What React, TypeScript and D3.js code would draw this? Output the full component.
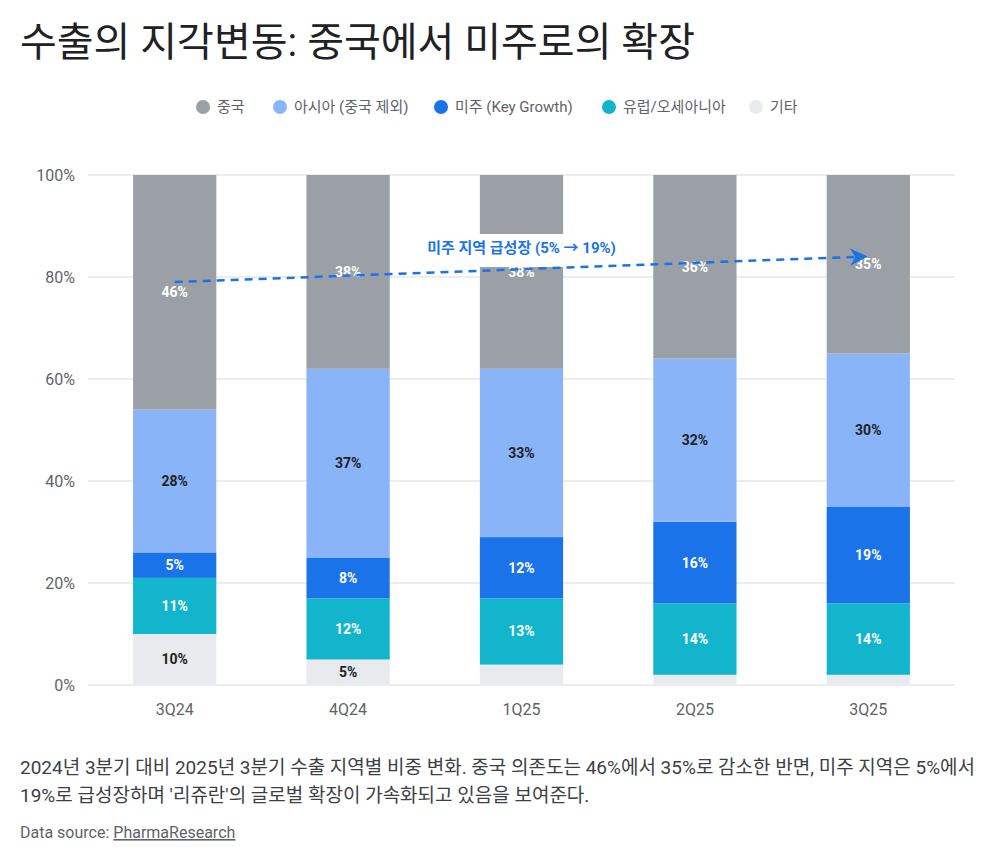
import React, { useEffect, useRef } from 'react';
import * as d3 from 'd3';

// quarterly export share by region (%)
const quarters = ['3Q24', '4Q24', '1Q25', '2Q25', '3Q25'];
const regionNames = ['중국', '아시아 (중국 제외)', '미주 (Key Growth)', '유럽/오세아니아', '기타'];
const china = [46, 38, 38, 36, 35];
const asia = [28, 37, 33, 32, 30];
const americas = [5, 8, 12, 16, 19];
const europe = [11, 12, 13, 14, 14];
const others = [10, 5, 4, 2, 2];
const yTicks = [0, 20, 40, 60, 80, 100];
// trend arrow, start/end level in %
const trend = [79, 84];

const colors: Record<string, string> = {
  china: '#9aa0a6',
  asia: '#8ab4f8',
  americas: '#1a73e8',
  europe: '#12b5cb',
  others: '#e8eaed',
};
const labelFill: Record<string, string> = {
  china: '#ffffff',
  asia: '#202124',
  americas: '#ffffff',
  europe: '#ffffff',
  others: '#202124',
};

const FONT = "Roboto, 'Noto Sans CJK KR', sans-serif";

const App = () => {
  const ref = useRef<SVGSVGElement>(null);

  useEffect(() => {
    const svg = d3.select(ref.current);
    svg.selectAll('*').remove();

    const width = 1000;
    const height = 863;
    const margin = { left: 88, right: 45, top: 175, bottom: 178 };

    svg.attr('width', width).attr('height', height).style('font-family', FONT);

    // title
    svg.append('text')
      .attr('x', 20).attr('y', 56)
      .attr('font-size', 40).attr('fill', '#202124')
      .text('수출의 지각변동: 중국에서 미주로의 확장');

    // legend
    const keys = ['china', 'asia', 'americas', 'europe', 'others'];
    const legend = svg.append('g').attr('font-size', 15).attr('fill', '#5f6368');
    const legendX = [203, 280, 441, 609, 756];
    keys.forEach((k, i) => {
      const g = legend.append('g').attr('transform', `translate(${legendX[i]},107)`);
      g.append('circle').attr('r', 7).attr('fill', colors[k]);
      g.append('text').attr('x', 14).attr('dy', '0.35em').attr('fill', '#5f6368').text(regionNames[i]);
    });

    const rows = quarters.map((q, i) => ({
      quarter: q,
      china: china[i],
      asia: asia[i],
      americas: americas[i],
      europe: europe[i],
      others: others[i],
    }));

    const x = d3.scaleBand()
      .domain(quarters)
      .range([margin.left, width - margin.right])
      .paddingInner(0.52)
      .paddingOuter(0.26);

    const y = d3.scaleLinear()
      .domain([0, 100])
      .range([height - margin.bottom, margin.top]);

    // gridlines + y labels
    const grid = svg.append('g');
    yTicks.forEach(t => {
      grid.append('line')
        .attr('x1', margin.left).attr('x2', width - margin.right)
        .attr('y1', y(t)).attr('y2', y(t))
        .attr('stroke', '#dadce0').attr('stroke-width', 1.2);
      grid.append('text')
        .attr('x', 75).attr('y', y(t)).attr('dy', '0.35em')
        .attr('text-anchor', 'end').attr('font-size', 16).attr('fill', '#5f6368')
        .text(`${t}%`);
    });

    // x labels
    quarters.forEach(q => {
      svg.append('text')
        .attr('x', x(q)! + x.bandwidth() / 2).attr('y', 709)
        .attr('dy', '0.35em')
        .attr('text-anchor', 'middle').attr('font-size', 16).attr('fill', '#5f6368')
        .text(q);
    });

    const stackOrder = ['others', 'europe', 'americas', 'asia', 'china'];
    const series = d3.stack<any>().keys(stackOrder)(rows);

    const bars = svg.append('g');
    series.forEach(s => {
      bars.selectAll(null)
        .data(s)
        .join('rect')
        .attr('x', d => x(d.data.quarter)!)
        .attr('width', x.bandwidth())
        .attr('y', d => y(d[1]))
        .attr('height', d => y(d[0]) - y(d[1]))
        .attr('fill', colors[s.key]);
    });

    const labels = svg.append('g')
      .attr('font-size', 14).attr('font-weight', 700).attr('text-anchor', 'middle');
    series.forEach(s => {
      s.forEach(d => {
        const v = d[1] - d[0];
        if (v < 5) return;
        labels.append('text')
          .attr('x', x(d.data.quarter)! + x.bandwidth() / 2)
          .attr('y', y((d[0] + d[1]) / 2))
          .attr('dy', '0.35em')
          .attr('fill', labelFill[s.key])
          .text(`${Math.round(v)}%`);
      });
    });

    // annotation: growth of the Americas
    const xs = x(quarters[0])! + x.bandwidth() / 2;
    const xe = x(quarters[quarters.length - 1])! + x.bandwidth() / 2;
    const midX = x(quarters[2])! + x.bandwidth() / 2;

    svg.append('rect')
      .attr('x', midX - 110).attr('y', 234)
      .attr('width', 220).attr('height', 33)
      .attr('fill', '#ffffff');

    svg.append('text')
      .attr('x', midX).attr('y', 248).attr('dy', '0.35em')
      .attr('text-anchor', 'middle')
      .attr('font-size', 15).attr('font-weight', 700).attr('fill', '#1a73e8')
      .text('미주 지역 급성장 (5% → 19%)');

    const defs = svg.append('defs');
    defs.append('marker')
      .attr('id', 'arrowhead')
      .attr('viewBox', '0 0 10 10')
      .attr('refX', 7).attr('refY', 5)
      .attr('markerWidth', 7).attr('markerHeight', 7)
      .attr('markerUnits', 'strokeWidth')
      .attr('orient', 'auto')
      .append('path')
      .attr('d', 'M0,0 L10,5 L0,10 L3,5 Z')
      .attr('fill', '#1a73e8');

    svg.append('line')
      .attr('x1', xs).attr('y1', y(trend[0]))
      .attr('x2', xe - 6).attr('y2', y(trend[1]))
      .attr('stroke', '#1a73e8')
      .attr('stroke-width', 2.5)
      .attr('stroke-dasharray', '8 6')
      .attr('marker-end', 'url(#arrowhead)');

    // caption
    const caption = svg.append('g').attr('font-size', 19).attr('fill', '#3c4043');
    caption.append('text').attr('x', 20).attr('y', 774)
      .text('2024년 3분기 대비 2025년 3분기 수출 지역별 비중 변화. 중국 의존도는 46%에서 35%로 감소한 반면, 미주 지역은 5%에서');
    caption.append('text').attr('x', 20).attr('y', 802)
      .text("19%로 급성장하며 '리쥬란'의 글로벌 확장이 가속화되고 있음을 보여준다.");

    const source = svg.append('text').attr('x', 20).attr('y', 838)
      .attr('font-size', 16).attr('fill', '#5f6368');
    source.append('tspan').text('Data source: ');
    source.append('tspan').attr('text-decoration', 'underline').text('PharmaResearch');
  }, []);

  return (
    <div style={{ position: 'absolute', left: 0, top: 0 }}>
      <svg ref={ref} width={1000} height={863} />
    </div>
  );
};

export default App;
